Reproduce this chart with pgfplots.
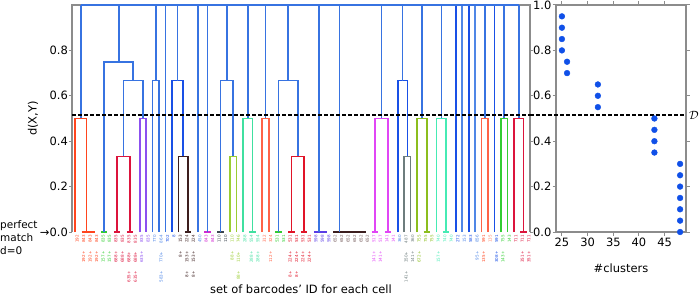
\documentclass[border=0pt]{standalone}
\usepackage{pgfplots}
\pgfplotsset{compat=1.18}
\usepackage{fontspec}
\setmainfont{DejaVu Sans}
\pgfplotsset{/pgf/number format/assume math mode=true}
\definecolor{oA}{RGB}{255,69,30}
\definecolor{grn}{RGB}{50,205,50}
\definecolor{crim}{RGB}{220,20,60}
\definecolor{purp}{RGB}{140,80,240}
\definecolor{bL}{RGB}{80,135,230}
\definecolor{bD}{RGB}{25,80,230}
\definecolor{topb}{RGB}{55,115,225}
\definecolor{brn}{RGB}{60,30,30}
\definecolor{mag}{RGB}{210,40,210}
\definecolor{dgr}{RGB}{60,70,80}
\definecolor{yg}{RGB}{154,205,50}
\definecolor{yg2}{RGB}{140,190,30}
\definecolor{aq}{RGB}{64,224,160}
\definecolor{aq2}{RGB}{70,235,180}
\definecolor{tom}{RGB}{255,99,71}
\definecolor{red1}{RGB}{225,20,40}
\definecolor{bvi}{RGB}{90,60,230}
\definecolor{gbr}{RGB}{120,95,95}
\definecolor{vio}{RGB}{225,70,245}
\definecolor{gry}{RGB}{110,125,125}
\definecolor{sal}{RGB}{255,130,100}
\definecolor{dotc}{RGB}{16,80,232}
\definecolor{spine}{RGB}{140,140,140}
\newcommand\sep{\hspace{2.1em}}
\newcommand\tl[2]{\textcolor{#1}{#2}}
\begin{document}
\begin{tikzpicture}[x=1bp,y=1bp]
\useasboundingbox (0bp,0bp) rectangle (700bp,296bp);
\begin{axis}[
  at={(72bp,64bp)}, anchor=south west, scale only axis,
  width=458bp, height=227bp,
  xmin=0.5, xmax=71.5, ymin=0, ymax=1,
  clip=false,
  axis line style={draw=none},
  tick align=outside, major tick length=3bp,
  ytick style={spine, line width=1bp},
  xtick style={draw=none},
  ytick={0,0.2,0.4,0.6,0.8},
  yticklabels={→0.0,0.2,0.4,0.6,0.8},
  yticklabel style={font=\fontsize{11.5}{13}\selectfont, inner sep=1bp},
  ylabel={d(X,Y)},
  ylabel style={at={(axis description cs:-0.085,0.5)}, anchor=center, font=\fontsize{11.5}{13}\selectfont},
  xlabel={set of barcodes' ID for each cell},
  xlabel style={at={(axis description cs:0.5,-0.251)}, anchor=center, font=\fontsize{11.5}{13}\selectfont},
  xtick={1,...,71},
  x tick label style={rotate=90, anchor=east, font=\fontsize{4.1}{5}\selectfont, inner sep=0pt, yshift=-2bp},
  xticklabels={
   \tl{oA}{192},\tl{oA}{192+\sep843},\tl{oA}{192+\sep843},\tl{oA}{192+\sep843},
   \tl{grn}{157+\sep835},\tl{grn}{157+\sep835},
   \tl{crim}{688+\sep835},\tl{crim}{688+\sep835},\tl{crim}{635+\sep688+\sep835},\tl{crim}{635+\sep688+\sep835},
   \tl{purp}{635+\sep835},\tl{purp}{835},
   \tl{bL}{770},\tl{bL}{583+\sep770+\sep864},\tl{bD}{702},\tl{bD}{8},
   \tl{brn}{8+\sep153},\tl{brn}{8+\sep153+\sep224},\tl{brn}{8+\sep153+\sep224},
   \tl{bL}{450},\tl{mag}{843},\tl{mag}{843},
   \tl{dgr}{110},\tl{dgr}{110},\tl{yg}{88+\sep110},\tl{yg}{88+\sep110+\sep746},
   \tl{aq}{288},\tl{aq}{288+\sep554},\tl{aq}{288+\sep554},
   \tl{tom}{312},\tl{tom}{112+\sep324},
   \tl{grn}{531},\tl{grn}{531},
   \tl{red1}{8+\sep224+\sep531},\tl{red1}{8+\sep224+\sep531},\tl{red1}{224+\sep531},\tl{red1}{224+\sep531},
   \tl{bvi}{598},\tl{bvi}{598},\tl{bvi}{598},
   \tl{gbr}{652},\tl{gbr}{652},\tl{gbr}{652},\tl{gbr}{652},\tl{gbr}{652},\tl{gbr}{652},
   \tl{vio}{141+\sep517},\tl{vio}{141+\sep517},\tl{vio}{141},\tl{vio}{141},
   \tl{bL}{360},\tl{gry}{141+\sep350+\sep487},\tl{gry}{141+\sep360},
   \tl{yg2}{672+\sep755},\tl{yg2}{755},\tl{yg2}{755},
   \tl{aq2}{157+\sep740},\tl{aq2}{740},\tl{aq2}{740},
   \tl{bD}{272},\tl{bL}{153},\tl{bD}{583},\tl{bL}{95+\sep856},
   \tl{oA}{135+\sep591},\tl{sal}{135},\tl{bD}{308+\sep591},
   \tl{grn}{143+\sep755},\tl{grn}{143},
   \tl{crim}{711},\tl{crim}{351+\sep711},\tl{crim}{351+\sep711}
  },
  every axis plot/.append style={line width=1.6bp, no marks},
]
\draw[spine, line width=1.5bp] (rel axis cs:0,0) -- (rel axis cs:0,1) -- (rel axis cs:1,1) -- (rel axis cs:1,0);
% cluster A
\addplot[oA] coordinates {(3,0) (4,0)};
\addplot[oA] coordinates {(2,0) (3.5,0)};
\addplot[oA] coordinates {(1,0) (1,0.5) (2.75,0.5) (2.75,0)};
\addplot[topb] coordinates {(1.875,0.5) (1.875,1)};
% cluster B
\addplot[grn] coordinates {(5,0) (6,0)};
\addplot[crim] coordinates {(7,0) (8,0)};
\addplot[crim] coordinates {(9,0) (10,0)};
\addplot[crim] coordinates {(7.5,0) (7.5,0.3333) (9.5,0.3333) (9.5,0)};
\addplot[purp] coordinates {(11,0) (11,0.5) (12,0.5) (12,0)};
\addplot[topb] coordinates {(8.5,0.3333) (8.5,0.6667) (11.5,0.6667) (11.5,0.5)};
\addplot[topb] coordinates {(5.5,0) (5.5,0.75) (10,0.75) (10,0.6667)};
\addplot[topb] coordinates {(7.75,0.75) (7.75,1)};
% C
\addplot[topb] coordinates {(13,0) (13,0.6667) (14,0.6667) (14,0)};
\addplot[topb] coordinates {(13.5,0.6667) (13.5,1)};
\addplot[topb] coordinates {(15,0) (15,1)};
% D
\addplot[brn] coordinates {(18,0) (19,0)};
\addplot[brn] coordinates {(17,0) (17,0.3333) (18.5,0.3333) (18.5,0)};
\addplot[bD] coordinates {(16,0) (16,0.6667) (17.75,0.6667) (17.75,0.3333)};
\addplot[topb] coordinates {(16.875,0.6667) (16.875,1)};
\addplot[topb] coordinates {(20,0) (20,1)};
\addplot[mag] coordinates {(21,0) (22,0)};
\addplot[topb] coordinates {(21.5,0) (21.5,1)};
% 23-26
\addplot[dgr] coordinates {(23,0) (24,0)};
\addplot[yg] coordinates {(25,0) (25,0.3333) (26,0.3333) (26,0)};
\addplot[topb] coordinates {(23.5,0) (23.5,0.6667) (25.5,0.6667) (25.5,0.3333)};
\addplot[topb] coordinates {(24.5,0.6667) (24.5,1)};
% E
\addplot[aq] coordinates {(28,0) (29,0)};
\addplot[aq] coordinates {(27,0) (27,0.5) (28.5,0.5) (28.5,0)};
\addplot[topb] coordinates {(27.75,0.5) (27.75,1)};
% F
\addplot[tom] coordinates {(30,0) (30,0.5) (31,0.5) (31,0)};
\addplot[topb] coordinates {(30.5,0.5) (30.5,1)};
% G
\addplot[grn] coordinates {(32,0) (33,0)};
\addplot[red1] coordinates {(34,0) (35,0)};
\addplot[red1] coordinates {(36,0) (37,0)};
\addplot[red1] coordinates {(34.5,0) (34.5,0.3333) (36.5,0.3333) (36.5,0)};
\addplot[topb] coordinates {(32.5,0) (32.5,0.6667) (35.5,0.6667) (35.5,0.3333)};
\addplot[topb] coordinates {(34,0.6667) (34,1)};
% H
\addplot[bvi] coordinates {(38,0) (40,0)};
\addplot[topb] coordinates {(38.75,0) (38.75,1)};
% I
\addplot[brn] coordinates {(41,0) (46,0)};
\addplot[topb] coordinates {(41.97,0) (41.97,1)};
% J
\addplot[vio] coordinates {(47,0) (48,0)};
\addplot[vio] coordinates {(49,0) (50,0)};
\addplot[vio] coordinates {(47.5,0) (47.5,0.5) (49.5,0.5) (49.5,0)};
\addplot[topb] coordinates {(48.5,0.5) (48.5,1)};
% K
\addplot[gry] coordinates {(52,0) (52,0.3333) (53,0.3333) (53,0)};
\addplot[bD] coordinates {(51,0) (51,0.6667) (52.5,0.6667) (52.5,0.3333)};
\addplot[topb] coordinates {(51.75,0.6667) (51.75,1)};
% L
\addplot[yg2] coordinates {(55,0) (56,0)};
\addplot[yg2] coordinates {(54,0) (54,0.5) (55.5,0.5) (55.5,0)};
\addplot[topb] coordinates {(54.75,0.5) (54.75,1)};
% M
\addplot[aq2] coordinates {(58,0) (59,0)};
\addplot[aq2] coordinates {(57,0) (57,0.5) (58.5,0.5) (58.5,0)};
\addplot[topb] coordinates {(57.75,0.5) (57.75,1)};
% singletons
\addplot[bD] coordinates {(60,0) (60,1)};
\addplot[bL] coordinates {(61,0) (61,1)};
\addplot[bD] coordinates {(62,0) (62,1)};
\addplot[bL] coordinates {(63,0) (63,1)};
% N
\addplot[tom] coordinates {(64,0) (64,0.5) (65,0.5) (65,0)};
\addplot[topb] coordinates {(64.5,0.5) (64.5,1)};
\addplot[bD] coordinates {(66,0) (66,1)};
% O
\addplot[grn] coordinates {(67,0) (67,0.5) (68,0.5) (68,0)};
\addplot[topb] coordinates {(67.5,0.5) (67.5,1)};
% P
\addplot[crim] coordinates {(70,0) (71,0)};
\addplot[crim] coordinates {(69,0) (69,0.5) (70.5,0.5) (70.5,0)};
\addplot[topb] coordinates {(69.75,0.5) (69.75,1)};
% root
\addplot[topb, line width=2bp] coordinates {(1.875,1) (69.75,1)};
% threshold
\addplot[black, line width=1.2bp, dash pattern=on 4bp off 2bp] coordinates {(0.5,0.515) (71.5,0.515)};
\end{axis}

\begin{axis}[
  at={(556bp,64bp)}, anchor=south west, scale only axis,
  width=130bp, height=227bp,
  xmin=23.85, xmax=49.15, ymin=0, ymax=1,
  clip=false,
  axis line style={spine, line width=1.4bp},
  tick align=outside, major tick length=3.5bp,
  tick style={spine, line width=1bp},
  xtick={25,30,35,40,45},
  ytick={0,0.2,0.4,0.6,0.8,1},
  y tick label style={/pgf/number format/fixed, /pgf/number format/fixed zerofill, /pgf/number format/precision=1, inner sep=1bp},
  tick label style={font=\fontsize{11.5}{13}\selectfont},
  x tick label style={inner sep=2bp},
  xlabel={\#clusters},
  xlabel style={at={(axis description cs:0.5,-0.159)}, anchor=center, font=\fontsize{11.5}{13}\selectfont},
]
\addplot[black, line width=1.2bp, dash pattern=on 4bp off 2bp] coordinates {(18.8,0.515) (49.15,0.515)};
\addplot[only marks, mark=*, mark size=2.9bp, dotc, mark options={draw=dotc, fill=dotc}] coordinates {
 (25,0.95) (25,0.9) (25,0.85) (25,0.8)
 (26,0.75) (26,0.7)
 (32,0.65) (32,0.6) (32,0.55)
 (43,0.5) (43,0.45) (43,0.4) (43,0.35)
 (48,0.3) (48,0.25) (48,0.2) (48,0.15) (48,0.1) (48,0.05) (48,0.0)
};
\end{axis}

\node[anchor=west, inner sep=1bp] at (688bp,181bp) {\fontsize{11.5}{13}\selectfont$\mathcal{D}$};
\node[anchor=west, align=left, inner sep=0pt, font=\fontsize{10.5}{13}\selectfont] at (0bp,58bp) {perfect\\match\\d=0};
\end{tikzpicture}
\end{document}
